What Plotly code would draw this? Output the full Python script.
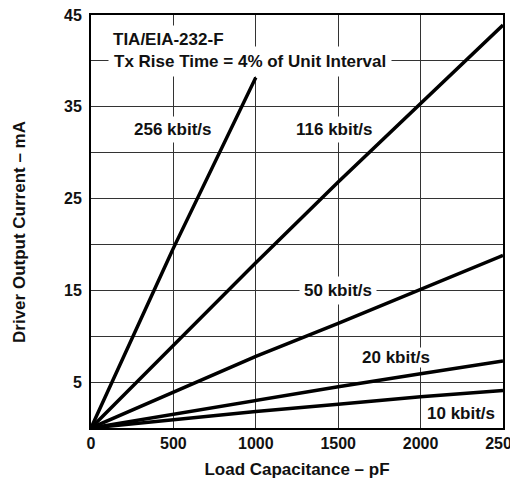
import plotly.graph_objects as go

# ---- data ----
capacitance_pf = [0, 500, 1000, 1500, 2000, 2500]
current_10k = [0, 0.9, 1.8, 2.6, 3.4, 4.1]
current_20k = [0, 1.5, 3.0, 4.5, 5.9, 7.3]
current_50k = [0, 3.9, 7.8, 11.4, 15.1, 18.8]
current_116k = [0, 9.0, 18.0, 26.8, 35.3, 43.9]
capacitance_256k = [0, 500, 1000]
current_256k = [0, 19.6, 38.2]

x_ticks = [0, 500, 1000, 1500, 2000, 2500]
y_grid = [0, 5, 10, 15, 20, 25, 30, 35, 40, 45]
y_labels = ["", "5", "", "15", "", "25", "", "35", "", "45"]

series_labels = ["10 kbit/s", "20 kbit/s", "50 kbit/s", "116 kbit/s", "256 kbit/s"]
label_x = [2245, 1851, 1496, 1475, 495]
label_y = [1.6, 7.7, 15.0, 32.5, 32.5]
label_pad = [3, 0, 4, 3, 3]

FONT = "Liberation Sans, Arial, sans-serif"

fig = go.Figure()
series = [
    (capacitance_pf, current_10k),
    (capacitance_pf, current_20k),
    (capacitance_pf, current_50k),
    (capacitance_pf, current_116k),
    (capacitance_256k, current_256k),
]
for xs, ys in series:
    fig.add_trace(go.Scatter(x=xs, y=ys, mode="lines",
                             line=dict(color="black", width=3.5),
                             showlegend=False, hoverinfo="skip"))

for x, y, t, p in zip(label_x, label_y, series_labels, label_pad):
    fig.add_annotation(x=x, y=y, text=f"<b>{t}</b>", showarrow=False,
                       bgcolor="white", borderpad=p,
                       font=dict(family=FONT, size=17, color="#111"))

fig.add_annotation(x=103, y=42.3, text="<b>TIA/EIA-232-F</b>", showarrow=False,
                   xanchor="left", bgcolor="white", borderpad=4,
                   font=dict(family=FONT, size=17, color="#111"))
fig.add_annotation(x=103, y=39.9, text="<b>Tx Rise Time = 4% of Unit Interval</b>",
                   showarrow=False, xanchor="left", bgcolor="white", borderpad=5,
                   font=dict(family=FONT, size=17, color="#111"))

# y-axis title (placed slightly below the plot centre, as in the reference)
fig.add_annotation(xref="paper", yref="paper", x=-0.172, y=0.475,
                   xanchor="center", yanchor="middle",
                   text="<b>Driver Output Current – mA</b>", textangle=-90,
                   showarrow=False, font=dict(family=FONT, size=17, color="#111"))

fig.update_layout(
    width=510, height=474,
    margin=dict(l=83, r=15, t=7, b=54),
    paper_bgcolor="white", plot_bgcolor="white",
    font=dict(family=FONT, size=16, color="#111"),
    xaxis=dict(range=[0, 2500], tickvals=x_ticks,
               ticktext=[f"<b>{v}</b>" for v in x_ticks],
               showgrid=True, gridcolor="#333", gridwidth=1,
               zeroline=False, showline=True, linecolor="black",
               linewidth=2, mirror=True, ticks="", ticklabelstandoff=0,
               ticklabeloverflow="allow",
               title=dict(text="<b>Load Capacitance – pF</b>",
                          font=dict(size=17), standoff=12),
               automargin=False),
    yaxis=dict(range=[0, 45], tickvals=y_grid,
               ticktext=[f"<b>{t}</b>" if t else "" for t in y_labels],
               showgrid=True, gridcolor="#333", gridwidth=1,
               zeroline=False, showline=True, linecolor="black",
               linewidth=2, mirror=True, ticks="", ticklabelstandoff=4,
               ticklabeloverflow="allow",
               automargin=False),
)

fig.write_html("out.html")
